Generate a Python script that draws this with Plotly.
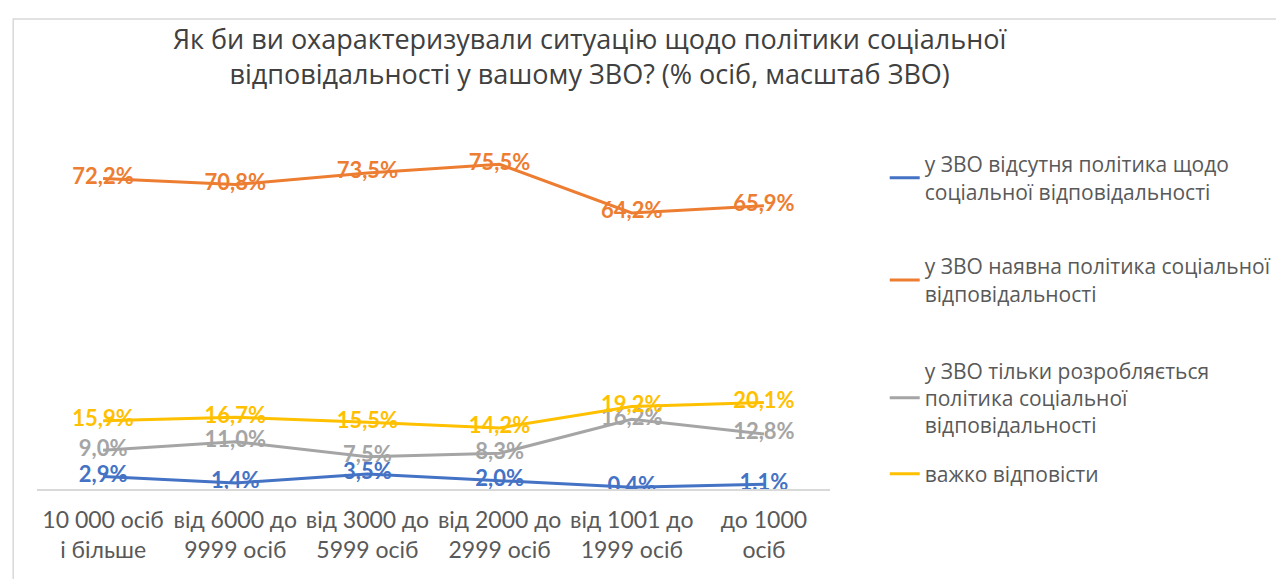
import plotly.graph_objects as go

categories = [
    '10 000 осіб<br>і більше',
    'від 6000 до<br>9999 осіб',
    'від 3000 до<br>5999 осіб',
    'від 2000 до<br>2999 осіб',
    'від 1001 до<br>1999 осіб',
    'до 1000<br>осіб',
]

no_policy = [2.9, 1.4, 3.5, 2.0, 0.4, 1.1]
has_policy = [72.2, 70.8, 73.5, 75.5, 64.2, 65.9]
in_progress = [9.0, 11.0, 7.5, 8.3, 16.2, 12.8]
hard_to_say = [15.9, 16.7, 15.5, 14.2, 19.2, 20.1]

series_names = [
    'у ЗВО відсутня політика щодо<br>соціальної відповідальності',
    'у ЗВО наявна політика соціальної<br>відповідальності',
    'у ЗВО тільки розробляється<br>політика соціальної<br>відповідальності',
    'важко відповісти',
]
series_values = [no_policy, has_policy, in_progress, hard_to_say]
colors = ['#4472C4', '#ED7D31', '#A5A5A5', '#FFC000']

title_text = ('Як би ви охарактеризували ситуацію щодо політики соціальної<br>'
              'відповідальності у вашому ЗВО? (% осіб, масштаб ЗВО)')

fig = go.Figure()

legend_keys = ['legend', 'legend2', 'legend3', 'legend4']
for name, vals, col, lg in zip(series_names, series_values, colors, legend_keys):
    fig.add_trace(go.Scatter(
        x=categories, y=vals, name=name,
        mode='lines+text',
        line=dict(color=col, width=3),
        text=[f'{v:.1f}%'.replace('.', ',') for v in vals],
        textposition='middle center',
        textfont=dict(family='Lato, Open Sans, sans-serif', size=22, color=col, weight='bold'),
        legend=lg,
        showlegend=True,
        hoverinfo='skip',
    ))

legend_style = dict(
    x=1.069, xanchor='left', yanchor='top',
    bgcolor='rgba(0,0,0,0)', borderwidth=0,
    font=dict(family='Open Sans, sans-serif', size=21, color='#595959'),
)
legend_y = [1.003, 0.706, 0.403, 0.103]

fig.update_layout(
    width=1284, height=579,
    showlegend=True,
    paper_bgcolor='white', plot_bgcolor='white',
    margin=dict(l=29, r=462, t=137, b=98),
    title=dict(text=title_text, x=0.453, xanchor='center', y=0.93, yanchor='top',
               font=dict(family='Open Sans, sans-serif', size=27, color='#404040')),
    xaxis=dict(showline=True, linecolor='#D9D9D9', linewidth=1.5, showgrid=False,
               ticks='', ticklabelstandoff=10,
               tickfont=dict(family='Lato, Open Sans, sans-serif', size=23, color='#595959'),
               range=[-0.5, 5.5]),
    yaxis=dict(visible=False, range=[0, 80]),
    legend=dict(y=legend_y[0], **legend_style),
    legend2=dict(y=legend_y[1], **legend_style),
    legend3=dict(y=legend_y[2], **legend_style),
    legend4=dict(y=legend_y[3], **legend_style),
    shapes=[dict(type='rect', xref='paper', yref='paper',
                 x0=-0.03, x1=1.6, y0=-0.4, y1=1.366,
                 line=dict(color='#D9D9D9', width=1.5), layer='below')],
)

fig.write_html('out.html')
